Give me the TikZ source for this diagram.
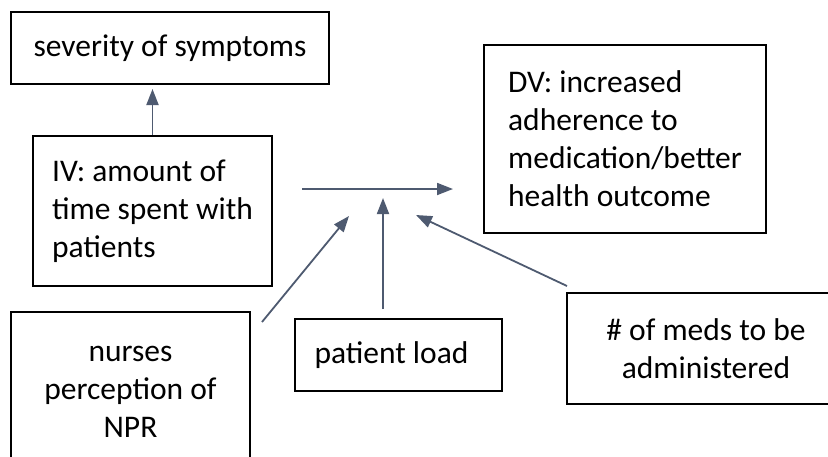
\documentclass[tikz,border=0pt]{standalone}
\usepackage{fontspec}
\setmainfont{Carlito}
\usetikzlibrary{arrows.meta}
\definecolor{arrowgray}{RGB}{78,90,112}

\begin{document}
\begin{tikzpicture}[x=1pt, y=-1pt,
  varbox/.style={draw, line width=2.8pt, inner sep=0pt, align=left,
    font=\fontsize{31.5}{38}\selectfont},
  effect/.style={draw=arrowgray, line width=1.8pt,
    -{Triangle[length=16pt,width=12pt]}}]
  \useasboundingbox (0,0) rectangle (828,456);
  % variables
  \node[varbox, minimum width=318, minimum height=72] (sev) at (170,48) {severity of symptoms};
  \node[varbox, minimum width=239, minimum height=150] (iv) at (152.5,211)
    {IV: amount of\\time spent with\\patients};
  \node[varbox, minimum width=282, minimum height=188] (dv) at (625,139)
    {DV: increased\\adherence to\\medication/better\\health outcome};
  \node[varbox, align=center, minimum width=239, minimum height=160] (nurses) at (130.5,392)
    {nurses\\perception of\\NPR};
  \node[varbox, minimum width=207, minimum height=72] (load) at (398.5,355) {patient load\kern14pt};
  \node[varbox, align=center, minimum width=278, minimum height=111] (meds) at (706,348.5)
    {\# of meds to be\\administered};
  % free ends of the arrows
  \coordinate (sevin) at (152.5,89);
  \coordinate (flowstart) at (302,189);
  \coordinate (flowend) at (453,189);
  \coordinate (nursesout) at (262,322);
  \coordinate (nursesin) at (349,216);
  \coordinate (loadout) at (383,309);
  \coordinate (loadin) at (383,198);
  \coordinate (medsout) at (567,286);
  \coordinate (medsin) at (416,215);
  % effects
  \draw[effect] (iv.north) -- (sevin);
  \draw[effect] (flowstart) -- (flowend);
  \draw[effect] (nursesout) -- (nursesin);
  \draw[effect] (loadout) -- (loadin);
  \draw[effect] (medsout) -- (medsin);
\end{tikzpicture}
\end{document}
